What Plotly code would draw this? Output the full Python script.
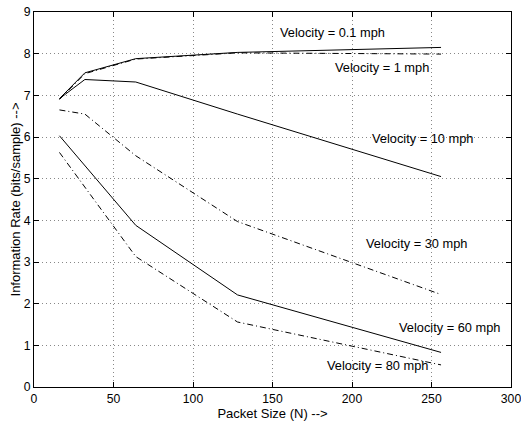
import plotly.graph_objects as go

packet_size = [16, 32, 64, 128, 256]
v_0_1 = [6.92, 7.54, 7.88, 8.03, 8.15]
v_1 = [6.90, 7.52, 7.87, 8.02, 7.99]
v_10 = [6.92, 7.38, 7.32, 6.55, 5.05]
v_30 = [6.65, 6.55, 5.55, 3.97, 2.22]
v_60 = [6.03, 5.31, 3.88, 2.21, 0.83]
v_80 = [5.63, 4.80, 3.13, 1.56, 0.53]

series = [
    ("Velocity = 0.1 mph", v_0_1, "solid"),
    ("Velocity = 1 mph", v_1, "6px,3px,1px,3px"),
    ("Velocity = 10 mph", v_10, "solid"),
    ("Velocity = 30 mph", v_30, "6px,3px,1px,3px"),
    ("Velocity = 60 mph", v_60, "solid"),
    ("Velocity = 80 mph", v_80, "6px,3px,1px,3px"),
]
label_pos = [(188, 8.5), (219, 7.68), (244.5, 5.97), (240.7, 3.45), (261.4, 1.44), (216.2, 0.52)]

FONT = "Liberation Sans"

fig = go.Figure()
for (name, ys, dash) in series:
    fig.add_trace(go.Scatter(x=packet_size, y=ys, mode="lines", name=name,
                             line=dict(color="black", width=1, dash=dash)))

for (name, _, _), (lx, ly) in zip(series, label_pos):
    fig.add_annotation(x=lx, y=ly, text=name, showarrow=False,
                       font=dict(family=FONT, size=12.8, color="black"))

axis_common = dict(showline=True, linecolor="black", linewidth=1, mirror="ticks",
                   ticks="inside", ticklen=5, tickcolor="black", automargin=False,
                   ticklabeloverflow="allow",
                   showgrid=True, gridcolor="#888888", gridwidth=1, griddash="1px,3px",
                   zeroline=False, tickfont=dict(family=FONT, size=12.2, color="black"))

fig.update_layout(
    width=521, height=427,
    margin=dict(l=34, r=10, t=12, b=40),
    paper_bgcolor="white", plot_bgcolor="white",
    showlegend=False,
    font=dict(family=FONT, size=12.5, color="black"),
    xaxis=dict(range=[0, 300], dtick=50,
               title=dict(text="Packet Size (N) -->", standoff=0,
                          font=dict(family=FONT, size=13)),
               **axis_common),
    yaxis=dict(range=[0, 9], dtick=1,
               title=dict(text="Information Rate (bits/sample) -->", standoff=0,
                          font=dict(family=FONT, size=13)),
               **axis_common),
)

fig.write_html("out.html", config={"displayModeBar": False},
               post_script="document.body.style.margin='0';")
